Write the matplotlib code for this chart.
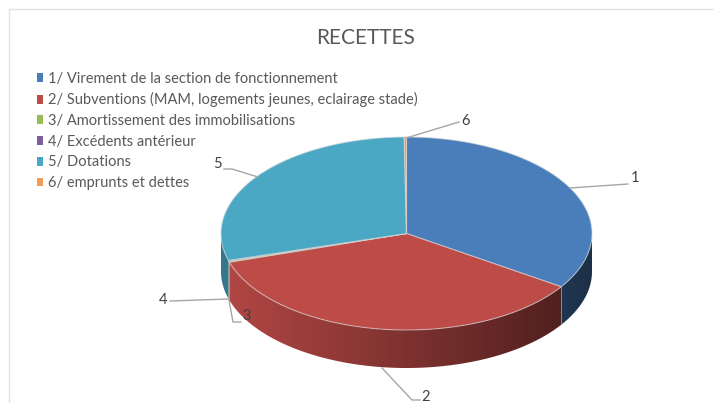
import numpy as np
import matplotlib
matplotlib.use("Agg")
import matplotlib.pyplot as plt
from matplotlib.patches import Patch, Polygon, Rectangle

plt.rcParams['font.family'] = ['Lato', 'DejaVu Sans']

# Data (share of the total in %)
title = "RECETTES"
categories = [
    "1/ Virement de la section de fonctionnement",
    "2/ Subventions (MAM, logements jeunes, eclairage stade)",
    "3/ Amortissement des immobilisations",
    "4/ Excédents antérieur",
    "5/ Dotations",
    "6/ emprunts et dettes",
]
values = [34.3, 35.9, 0.2, 0.1, 29.3, 0.2]
slice_labels = ["1", "2", "3", "4", "5", "6"]
colors = ["#4a7ebb", "#bd4b48", "#98b954", "#7d5fa0", "#4aa8c4", "#f59d56"]

# Pie geometry in pixels
cx, cy = 406.5, 233.5
rx, ry = 185.5, 96.5
depth = 38

# Label text position and leader line for each slice
label_pos = [(635, 178), (426, 397), (247, 316), (163, 300), (217, 164), (466, 121)]
leaders = [
    [(570, 188), (628, 184)],
    [(382, 368), (412, 400), (420, 400)],
    [(229, 300), (233, 322), (241, 322)],
    [(170, 301), (229, 299)],
    [(224, 169), (232, 169), (258, 177)],
    [(406, 138), (459, 122)],
]


def rim(theta):
    # theta is clockwise from 12 o'clock, in degrees
    t = np.radians(theta)
    return cx + rx * np.sin(t), cy - ry * np.cos(t)


fig = plt.figure(figsize=(7.14, 4.03), dpi=100)
ax = fig.add_axes([0, 0, 1, 1])
ax.axis("off")

# Chart frame, cut by the edge of the picture on the right and at the bottom
ax.add_patch(Rectangle((9, 9), 800, 500, fc="white", ec="#e3e3e3", lw=1, zorder=1))

# Slice angles come from the values
edges = np.concatenate([[0], np.cumsum(values)]) / np.sum(values) * 360

# Side wall of the pie, only the front half shows. Gradient clipped to each wall
shade = np.linspace(0.95, 0.38, 256)
wall_gain = {4: 0.75}  # the teal wall is darker than the red one at the same spot
for i in range(len(values)):
    a0, a1 = max(edges[i], 90), min(edges[i + 1], 270)
    if a1 <= a0:
        continue
    th = np.linspace(a0, a1, 200)
    xs, ys = rim(th)
    pts = np.column_stack([np.r_[xs, xs[::-1]], np.r_[ys, ys[::-1] + depth]])
    wall = Polygon(pts, closed=True, fc="none", ec="none", transform=ax.transData)
    ax.add_patch(wall)
    base = np.array(matplotlib.colors.to_rgb(colors[i])) * wall_gain.get(i, 1)
    img = (base[None, None, :] * shade[None, :, None])
    im = ax.imshow(img, extent=[cx - rx, cx + rx, cy + ry + depth, cy - ry],
                   aspect="auto", interpolation="bilinear", zorder=2)
    im.set_clip_path(wall)

ax.set_xlim(0, 714)
ax.set_ylim(403, 0)

# Seam between the two walls on the right
x_seam, y_seam = rim(edges[1])
ax.plot([x_seam, x_seam], [y_seam, y_seam + depth * 0.97], color="#8a8a8a", lw=0.7, zorder=3)

# Top face
for i in range(len(values)):
    th = np.linspace(edges[i], edges[i + 1], max(int(edges[i + 1] - edges[i]) * 2, 3))
    xs, ys = rim(th)
    pts = np.column_stack([np.r_[cx, xs], np.r_[cy, ys]])
    ax.add_patch(Polygon(pts, closed=True, fc=colors[i], ec=(0.85, 0.85, 0.85, 0.6), lw=0.8, zorder=3))

# Leader lines and slice labels
for line, pos, lab in zip(leaders, label_pos, slice_labels):
    pts = np.array(line)
    ax.plot(pts[:, 0], pts[:, 1], color="#a6a6a6", lw=1, zorder=4)
    ax.text(pos[0], pos[1], lab, fontsize=10.5, color="#404040", ha="center", va="center", zorder=5)

ax.text(365.5, 38, title, fontsize=15, color="#595959", ha="center", va="center")

handles = [Patch(fc=c, ec="none") for c in colors]
ax.legend(handles, categories, loc="upper left", bbox_to_anchor=(37 / 714, 1 - 71.5 / 403),
          bbox_transform=fig.transFigure, frameon=False, fontsize=10.5, labelcolor="#595959",
          handlelength=0.42, handleheight=0.55, handletextpad=0.36, labelspacing=0.46,
          borderpad=0, borderaxespad=0)

fig.savefig("out.png", dpi=100)
